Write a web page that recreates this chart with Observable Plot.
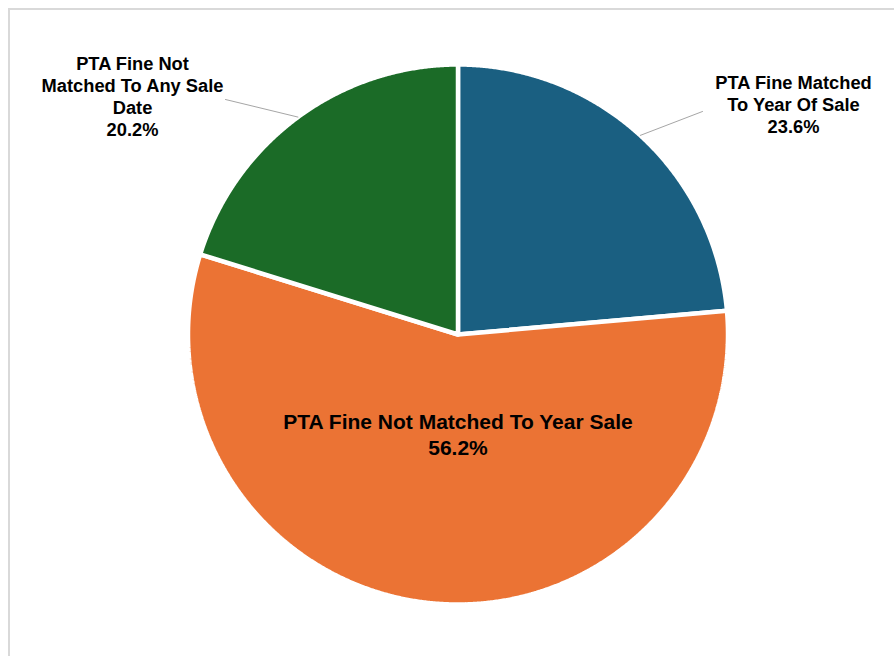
<!DOCTYPE html>
<html>
<head>
<meta charset="utf-8">
<script src="https://cdn.jsdelivr.net/npm/d3@7"></script>
<script src="https://cdn.jsdelivr.net/npm/@observablehq/plot@0.6"></script>
<style>
  html, body { margin: 0; padding: 0; background: #fff; }
  #wrap { position: relative; width: 894px; height: 656px; overflow: hidden; }
  #frame { position: absolute; left: 8px; top: 8px; width: 900px; height: 700px;
           border-left: 2px solid #d9d9d9; border-top: 2px solid #d9d9d9; box-sizing: border-box; }
  #chart { position: absolute; left: 0; top: 0; }
</style>
</head>
<body>
<div id="wrap"><div id="frame"></div><div id="chart"></div></div>
<script>
// ---- data ----
const categories = [
  "PTA Fine Matched To Year Of Sale",
  "PTA Fine Not Matched To Year Sale",
  "PTA Fine Not Matched To Any Sale Date"
];
const values = [23.6, 56.2, 20.2];
const labelText = [
  "PTA Fine Matched\nTo Year Of Sale",
  "PTA Fine Not Matched To Year Sale",
  "PTA Fine Not\nMatched To Any Sale\nDate"
];
const colors = ["#1a5f81", "#eb7334", "#1b6b27"];

// ---- layout ----
const W = 894, H = 656, R = 270, CX = 457.5, CY = 334;
const pie = d3.pie().sort(null).value(d => d)(values);

const slicePts = [];
pie.forEach((p, i) => {
  const name = categories[i];
  slicePts.push({name, x: 0, y: 0});
  const n = Math.max(2, Math.ceil((p.endAngle - p.startAngle) / 0.005));
  for (let k = 0; k <= n; k++) {
    const a = p.startAngle + (p.endAngle - p.startAngle) * k / n;
    slicePts.push({name, x: Math.sin(a), y: Math.cos(a)});
  }
  slicePts.push({name, x: 0, y: 0});
});

// label placement (layout, in unit-radius coordinates)
const labelPlace = [
  {x: (793 - CX) / R, y: (CY - 103.5) / R, size: 18.3, lh: 1.2, leaderEnd: [(702 - CX) / R, (CY - 111) / R]},
  {x: 0, y: (CY - 433) / R, size: 21, lh: 1.25, leaderEnd: null},
  {x: (132 - CX) / R, y: (CY - 95.5) / R, size: 18.3, lh: 1.2, leaderEnd: [(225 - CX) / R, (CY - 99) / R]}
];

const labels = pie.map((p, i) => ({
  name: categories[i],
  text: labelText[i] + "\n" + values[i].toFixed(1) + "%",
  ...labelPlace[i]
}));

const leaders = [];
pie.forEach((p, i) => {
  const e = labelPlace[i].leaderEnd;
  if (!e) return;
  const mid = (p.startAngle + p.endAngle) / 2;
  leaders.push({name: categories[i], x: Math.sin(mid), y: Math.cos(mid)});
  leaders.push({name: categories[i], x: e[0], y: e[1]});
});

const font = "'Liberation Sans', Arial, Helvetica, sans-serif";

const textMarks = labels.map(l => Plot.text([l], {
  x: "x", y: "y", text: "text",
  fontSize: l.size, lineHeight: l.lh, fontWeight: "bold",
  fill: "#000", textAnchor: "middle", lineAnchor: "middle"
}));

const chart = Plot.plot({
  width: W, height: H,
  margin: 0,
  style: {fontFamily: font, background: "transparent"},
  x: {domain: [-CX / R, (W - CX) / R], axis: null},
  y: {domain: [-(H - CY) / R, CY / R], axis: null},
  color: {domain: categories, range: colors},
  marks: [
    Plot.line(slicePts, {
      x: "x", y: "y", z: "name", fill: "name",
      stroke: "white", strokeWidth: 4.5, strokeLinejoin: "miter", curve: "linear"
    }),
    Plot.line(leaders, {x: "x", y: "y", z: "name", stroke: "#a6a6a6", strokeWidth: 1}),
    ...textMarks
  ]
});
document.getElementById("chart").appendChild(chart);
</script>
</body>
</html>
